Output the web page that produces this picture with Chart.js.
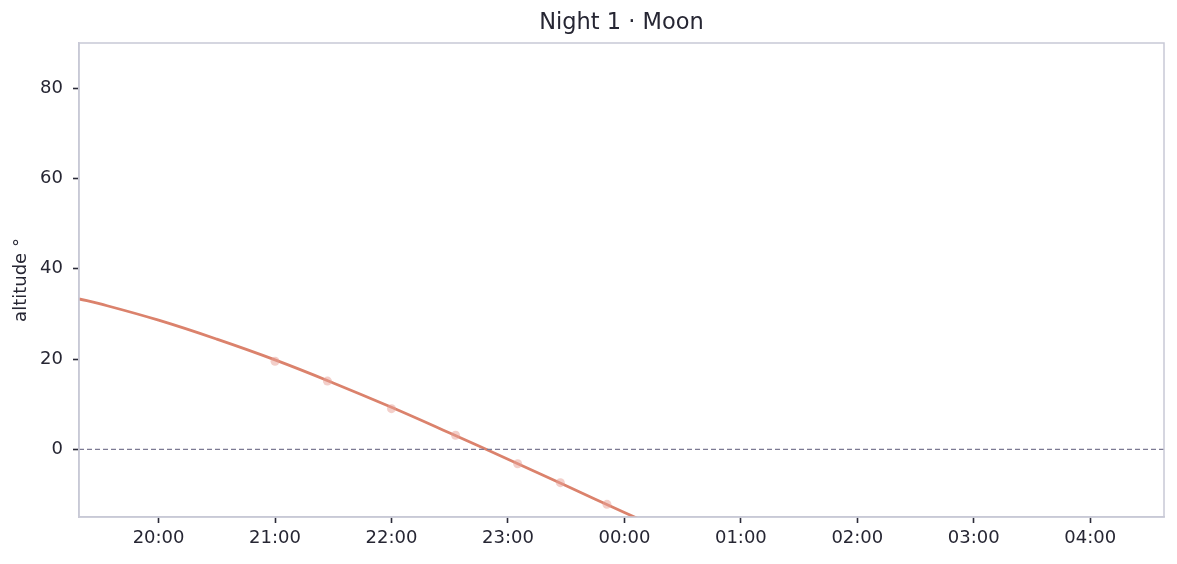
<!DOCTYPE html>
<html>
<head>
<meta charset="utf-8">
<script src="https://cdn.jsdelivr.net/npm/chart.js@4/dist/chart.umd.min.js"></script>
<style>
  html, body { margin: 0; padding: 0; background: #fff; }
  #wrap { width: 1177px; height: 564px; }
</style>
</head>
<body>
<div id="wrap"><canvas id="altChart" width="1177" height="564"></canvas></div>
<script>
// night window and axis ticks
const startTime = "19:19";
const endTime = "04:38";
const hourTicks = ["20:00", "21:00", "22:00", "23:00", "00:00", "01:00", "02:00", "03:00", "04:00"];
const altTicks = [0, 20, 40, 60, 80];
const chartTitle = "Night 1 · Moon";

// moon altitude curve
const curveTimes = ["19:19", "19:30", "20:00", "20:30", "21:00", "21:30", "22:00", "22:30", "23:00", "23:30", "00:00", "00:30"];
const curveAlt = [33.3, 32.2, 28.6, 24.4, 19.8, 14.7, 9.3, 3.6, -2.2, -8.1, -14.0, -19.8];

// observed samples
const obsTimes = ["21:00", "21:27", "22:00", "22:33", "23:05", "23:27", "23:51"];
const obsAlt = [19.5, 15.1, 9.0, 3.1, -3.2, -7.4, -12.2];

// hours relative to 20:00, wrapping past midnight
function toHours(t) {
  const [h, m] = t.split(":").map(Number);
  let v = h + m / 60 - 20;
  if (v < -12) v += 24;
  return v;
}
function fmtHour(v) {
  const h = ((Math.round(v) + 20) % 24 + 24) % 24;
  return String(h).padStart(2, "0") + ":00";
}

const xMin = toHours(startTime);
const xMax = toHours(endTime);

const font = "'DejaVu Sans', sans-serif";
const ink = "#262633";

// box round the plot, title centred over the plot area
const frame = {
  id: "frame",
  afterDraw(chart) {
    const a = chart.chartArea, c = chart.ctx;
    c.save();
    c.strokeStyle = "#c8c9d6";
    c.lineWidth = 1.5;
    c.strokeRect(a.left, a.top, a.right - a.left, a.bottom - a.top);
    c.fillStyle = ink;
    c.font = "22.5px " + font;
    c.textAlign = "center";
    c.textBaseline = "middle";
    c.fillText(chartTitle, (a.left + a.right) / 2, 23);
    c.restore();
  }
};

new Chart(document.getElementById("altChart"), {
  type: "scatter",
  data: {
    datasets: [
      {
        label: "horizon",
        data: [{ x: xMin, y: 0 }, { x: xMax, y: 0 }],
        showLine: true,
        borderColor: "#7c7a93",
        borderWidth: 1.2,
        borderDash: [5, 3],
        pointRadius: 0,
      },
      {
        label: "samples",
        data: obsTimes.map((t, i) => ({ x: toHours(t), y: obsAlt[i] })),
        pointRadius: 4.5,
        pointBorderWidth: 0,
        backgroundColor: "rgba(232, 160, 150, 0.5)",
        borderColor: "rgba(232, 160, 150, 0.5)",
      },
      {
        label: "Moon",
        data: curveTimes.map((t, i) => ({ x: toHours(t), y: curveAlt[i] })),
        showLine: true,
        borderColor: "#db826c",
        borderWidth: 2.8,
        pointRadius: 0,
        tension: 0.4,
      },
    ],
  },
  options: {
    responsive: false,
    animation: false,
    layout: { padding: { left: 0, right: 13, top: 43, bottom: 0 } },
    plugins: {
      legend: { display: false },
      tooltip: { enabled: false },
      title: { display: false },
    },
    scales: {
      x: {
        type: "linear",
        min: xMin,
        max: xMax,
        afterBuildTicks: (s) => { s.ticks = hourTicks.map((t) => ({ value: toHours(t) })); },
        afterFit: (s) => { s.height = 47; },
        ticks: {
          color: ink,
          font: { family: font, size: 18 },
          padding: 5,
          maxRotation: 0,
          callback: (v) => fmtHour(v),
        },
        grid: { drawOnChartArea: false, drawTicks: true, tickLength: 6, tickColor: "#2a2a38", tickWidth: 1.6 },
        border: { color: "#c8c9d6", width: 1.5 },
      },
      y: {
        min: -15,
        max: 90,
        afterBuildTicks: (s) => { s.ticks = altTicks.map((v) => ({ value: v })); },
        afterFit: (s) => { s.width = 79; },
        ticks: {
          color: ink,
          font: { family: font, size: 18 },
          padding: 10,
        },
        grid: { drawOnChartArea: false, drawTicks: true, tickLength: 6, tickColor: "#2a2a38", tickWidth: 1.6 },
        border: { color: "#c8c9d6", width: 1.5 },
        title: {
          display: true,
          text: "altitude °",
          color: ink,
          font: { family: font, size: 18, lineHeight: 1.2 },
          padding: { top: 11, bottom: 0 },
        },
      },
    },
  },
  plugins: [frame],
});
</script>
</body>
</html>
